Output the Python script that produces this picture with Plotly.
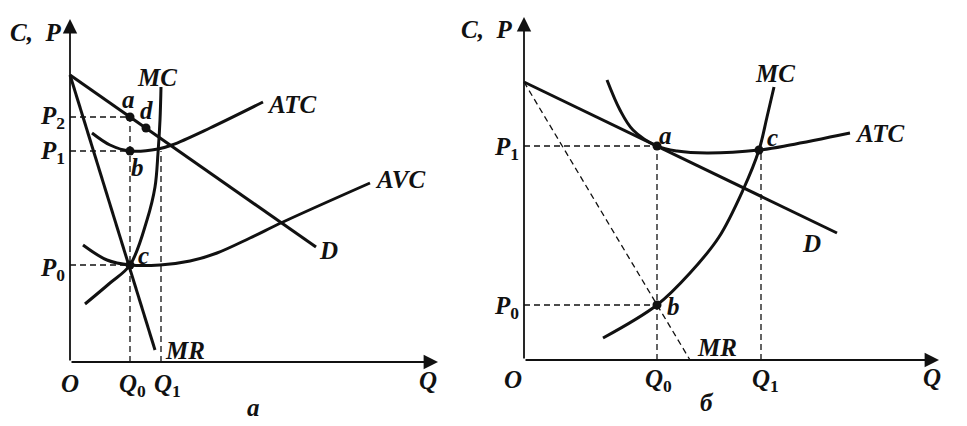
import plotly.graph_objects as go

# ---------------- Panel "а" (left) ----------------
L_D_q = [0, 246]
L_D_p = [287, 115]
L_MR_q = [0, 85]
L_MR_p = [287, 12]
L_MC_q = [15, 40, 60, 77, 85, 88, 90, 91]
L_MC_p = [58, 79, 97, 142, 175, 209, 242, 275]
L_ATC_q = [22, 40, 60, 88, 102, 140, 193]
L_ATC_p = [229, 217, 211, 213, 217, 234, 260]
L_AVC_q = [13, 37, 60, 90, 120, 147, 180, 213, 300]
L_AVC_p = [117, 102, 97, 97, 101, 109, 124, 140, 179]
L_pts_q = [60, 76, 60, 60]          # a, d, b, c
L_pts_p = [245, 234, 211, 97]
L_Q0, L_Q1 = 60, 91
L_P2, L_P1, L_P0 = 245, 211, 97
L_Q1_top = 211

# ---------------- Panel "б" (right) ----------------
R_D_q = [0, 313]
R_D_p = [278, 127]
R_MR_q = [0, 166]
R_MR_p = [278, 0]
R_MC_q = [79, 133, 166, 195, 219, 235, 243, 250]
R_MC_p = [22, 55, 87, 123, 170, 210, 243, 273]
R_ATC_q = [83, 96, 109, 133, 153, 183, 235, 266, 326]
R_ATC_p = [280, 250, 230, 214, 209, 207, 210, 215, 227]
R_pts_q = [133, 235, 133]          # a, c, b
R_pts_p = [214, 210, 55]
R_Q0, R_Q1 = 133, 237
R_P1, R_P0 = 214, 55
R_Q1_top = 210

fig = go.Figure()
BLK = "#111111"
CW = 3


def curve(q, p, xa, ya, spline=True, width=CW, dash=None):
    fig.add_trace(go.Scatter(
        x=q, y=p, mode="lines", xaxis=xa, yaxis=ya,
        line=dict(color=BLK, width=width, dash=dash,
                  shape="spline" if spline else "linear", smoothing=1.0),
        hoverinfo="skip", showlegend=False))


def dashed(q, p, xa, ya):
    curve(q, p, xa, ya, spline=False, width=1.3, dash="6px,4px")


# left panel
dashed([0, L_pts_q[0]], [L_P2, L_P2], "x", "y")
dashed([0, L_Q0], [L_P1, L_P1], "x", "y")
dashed([0, L_Q0], [L_P0, L_P0], "x", "y")
dashed([L_Q0, L_Q0], [0, L_P2], "x", "y")
dashed([L_Q1, L_Q1], [0, L_Q1_top], "x", "y")
curve(L_D_q, L_D_p, "x", "y", spline=False)
curve(L_MR_q, L_MR_p, "x", "y", spline=False)
curve(L_MC_q, L_MC_p, "x", "y")
curve(L_ATC_q, L_ATC_p, "x", "y")
curve(L_AVC_q, L_AVC_p, "x", "y")
fig.add_trace(go.Scatter(x=L_pts_q, y=L_pts_p, mode="markers", xaxis="x", yaxis="y",
                         marker=dict(color=BLK, size=9), hoverinfo="skip", showlegend=False))

# right panel
dashed([0, R_Q0], [R_P1, R_P1], "x2", "y2")
dashed([0, R_Q0], [R_P0, R_P0], "x2", "y2")
dashed([R_Q0, R_Q0], [0, R_P1], "x2", "y2")
dashed([R_Q1, R_Q1], [0, R_Q1_top], "x2", "y2")
dashed(R_MR_q, R_MR_p, "x2", "y2")
curve(R_D_q, R_D_p, "x2", "y2", spline=False)
curve(R_MC_q, R_MC_p, "x2", "y2")
curve(R_ATC_q, R_ATC_p, "x2", "y2")
fig.add_trace(go.Scatter(x=R_pts_q, y=R_pts_p, mode="markers", xaxis="x2", yaxis="y2",
                         marker=dict(color=BLK, size=9), hoverinfo="skip", showlegend=False))

FS = 25
ann = []


def label(txt, q, p, xr, yr, xanchor="center", sub=None):
    t = "<b><i>%s</i></b>" % txt
    if sub is not None:
        t = "<b><i>%s</i><sub>%s</sub></b>" % (txt, sub)
    ann.append(dict(text=t, x=q, y=p, xref=xr, yref=yr,
                    showarrow=False, xanchor=xanchor, yanchor="middle",
                    font=dict(family="Liberation Serif", size=FS, color=BLK)))


def axis_arrow(q0, p0, q1, p1, xr, yr):
    ann.append(dict(x=q1, y=p1, ax=q0, ay=p0, xref=xr, yref=yr, axref=xr, ayref=yr,
                    text="", showarrow=True, arrowhead=2, arrowsize=1.6,
                    arrowwidth=1.8, arrowcolor=BLK))


axis_arrow(0, 0, 0, 343, "x", "y")
axis_arrow(0, 0, 368, 0, "x", "y")
axis_arrow(0, 0, 0, 343, "x2", "y2")
axis_arrow(0, 0, 415, 0, "x2", "y2")

# left labels
label("C,&nbsp; P", -7, 330, "x", "y", xanchor="right")
label("MC", 87, 285, "x", "y")
label("a", 58, 263, "x", "y")
label("d", 76, 252, "x", "y")
label("ATC", 222, 258, "x", "y")
label("b", 67, 195, "x", "y")
label("AVC", 330, 183, "x", "y")
label("D", 258, 112, "x", "y")
label("c", 73, 107, "x", "y")
label("P", -3, 245, "x", "y", xanchor="right", sub="2")
label("P", -3, 210, "x", "y", xanchor="right", sub="1")
label("P", -3, 93, "x", "y", xanchor="right", sub="0")
label("MR", 115, 12, "x", "y")
label("O", 0, -21, "x", "y")
label("Q", 62, -23, "x", "y", sub="0")
label("Q", 97, -23, "x", "y", sub="1")
label("Q", 358, -18, "x", "y")
label("а", 183, -45, "x", "y")

# right labels
label("C,&nbsp; P", -10, 331, "x2", "y2", xanchor="right")
label("MC", 251, 287, "x2", "y2")
label("a", 141, 225, "x2", "y2")
label("c", 248, 223, "x2", "y2")
label("ATC", 356, 227, "x2", "y2")
label("P", -3, 212, "x2", "y2", xanchor="right", sub="1")
label("P", -3, 53, "x2", "y2", xanchor="right", sub="0")
label("D", 287, 117, "x2", "y2")
label("b", 149, 54, "x2", "y2")
label("MR", 193, 13, "x2", "y2")
label("O", -11, -19, "x2", "y2")
label("Q", 134, -20, "x2", "y2", sub="0")
label("Q", 241, -20, "x2", "y2", sub="1")
label("Q", 408, -17, "x2", "y2")
label("б", 183, -42, "x2", "y2")

hidden = dict(visible=False, showgrid=False, zeroline=False, fixedrange=True)
fig.update_layout(
    width=967, height=426,
    margin=dict(l=0, r=0, t=0, b=0),
    paper_bgcolor="white", plot_bgcolor="white",
    xaxis=dict(range=[-70, 897], domain=[0, 1], **hidden),
    yaxis=dict(range=[-64, 362], domain=[0, 1], **hidden),
    xaxis2=dict(range=[-524, 443], overlaying="x", **hidden),
    yaxis2=dict(range=[-66, 360], overlaying="y", **hidden),
    annotations=ann,
    showlegend=False,
)
fig.write_html("out.html", config={"displayModeBar": False, "staticPlot": True},
               post_script="document.body.style.margin='0';document.body.style.overflow='hidden';")
